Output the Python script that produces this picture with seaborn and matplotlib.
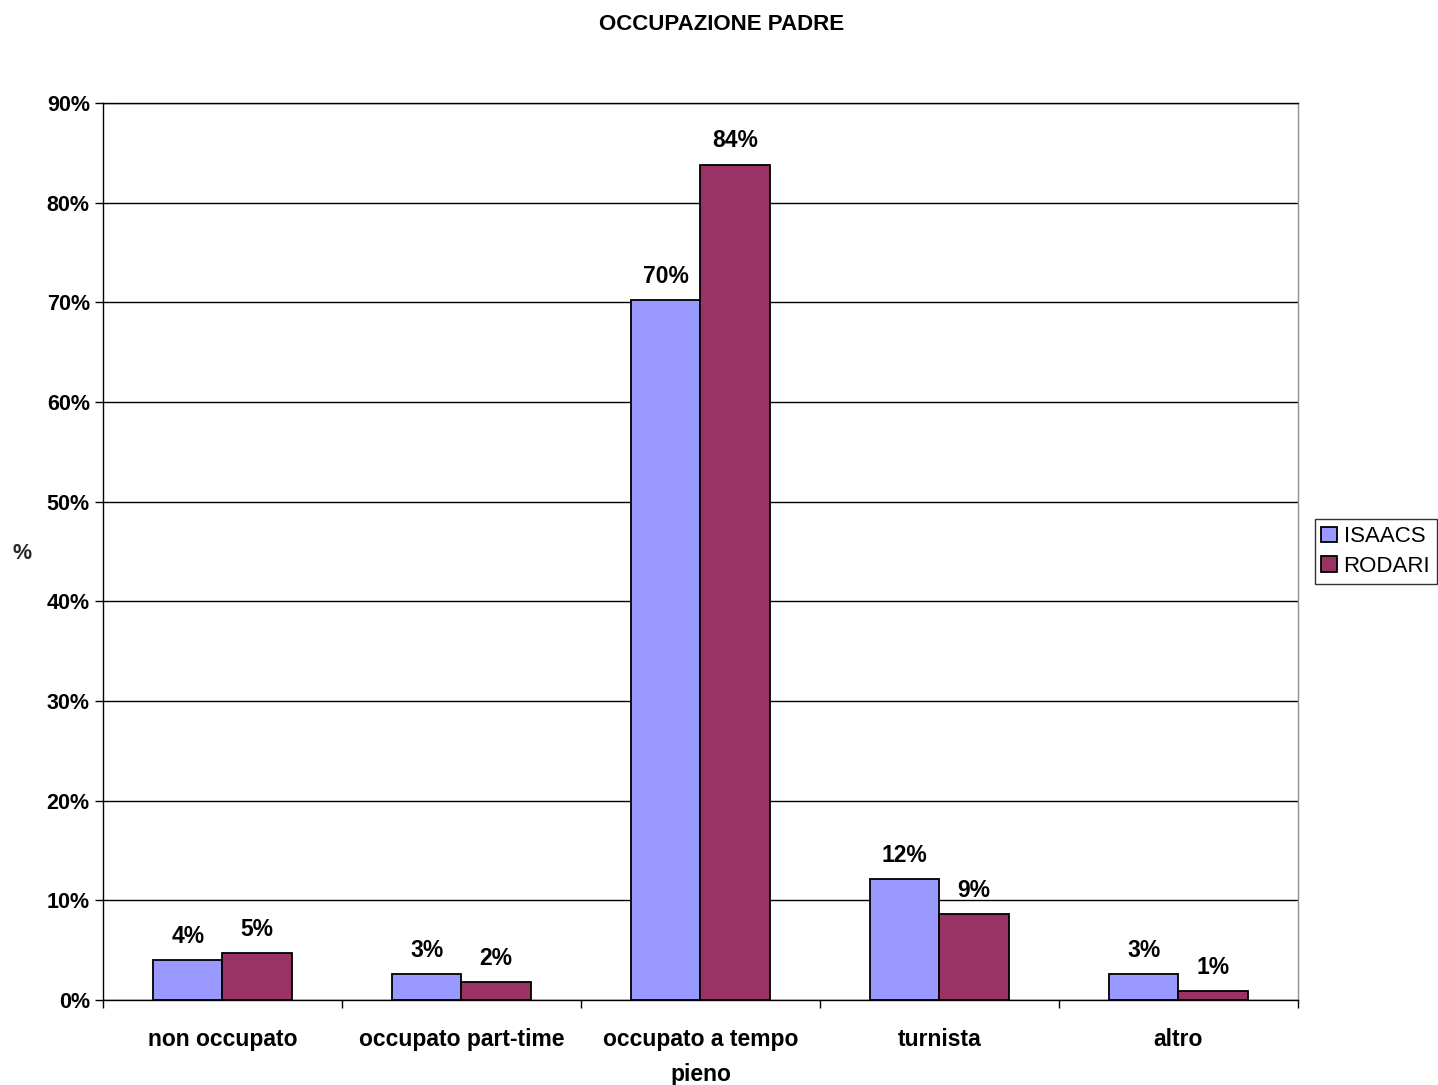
import matplotlib
matplotlib.use("Agg")
import matplotlib.pyplot as plt
import pandas as pd
import seaborn as sns
from matplotlib.ticker import FixedLocator, FuncFormatter

sns.set_style("white")
plt.rcParams["font.family"] = ["Liberation Sans", "DejaVu Sans"]
plt.rcParams["text.color"] = "black"
plt.rcParams["xtick.color"] = "black"
plt.rcParams["ytick.color"] = "black"

# Data
categories = ["non occupato", "occupato part-time", "occupato a tempo\npieno", "turnista", "altro"]
isaacs = [4.0, 2.6, 70.2, 12.1, 2.6]
rodari = [4.7, 1.8, 83.8, 8.6, 0.9]
series = ["ISAACS", "RODARI"]
colors = ["#9999FF", "#993366"]

df = pd.DataFrame({
    "categoria": categories * 2,
    "serie": [series[0]] * len(categories) + [series[1]] * len(categories),
    "valore": isaacs + rodari,
})

fig = plt.figure(figsize=(14.38, 10.85), dpi=100)
ax = fig.add_axes([0.0716, 0.0783, 0.831, 0.8268])

sns.barplot(data=df, x="categoria", y="valore", hue="serie", palette=colors,
            width=0.58, edgecolor="black", linewidth=1.3, ax=ax, saturation=1)

# value labels
for cont in ax.containers:
    for bar in cont:
        h = bar.get_height()
        ax.annotate(f"{h:.0f}%", (bar.get_x() + bar.get_width() / 2, h),
                    xytext=(0, 9), textcoords="offset points",
                    ha="center", va="bottom", fontsize=16.5, fontweight="bold")

ax.set_ylim(0, 90)
ax.set_xlim(-0.5, len(categories) - 0.5)
ax.set_yticks(range(0, 91, 10))
ax.yaxis.set_major_formatter(FuncFormatter(lambda v, p: f"{v:.0f}%"))
ax.yaxis.grid(True, color="black", linewidth=1)
ax.set_axisbelow(True)

# x ticks at category boundaries, labels at centres
ax.xaxis.set_major_locator(FixedLocator([i - 0.5 for i in range(len(categories) + 1)]))
ax.xaxis.set_minor_locator(FixedLocator(range(len(categories))))
ax.set_xticklabels([], minor=False)
ax.set_xticklabels(categories, minor=True, linespacing=1.7)
ax.tick_params(axis="x", which="major", length=6, width=1, direction="out", bottom=True)
ax.tick_params(axis="x", which="minor", length=0, pad=20, labelsize=16.5)
ax.tick_params(axis="y", length=6, width=1, direction="out", left=True, labelsize=15.5)
for lbl in ax.get_xticklabels(minor=True) + ax.get_yticklabels():
    lbl.set_fontweight("bold")

for s in ["left", "bottom", "top"]:
    ax.spines[s].set_color("black")
    ax.spines[s].set_linewidth(1)
ax.spines["right"].set_color("#909090")
ax.spines["right"].set_linewidth(1)

ax.set_xlabel("")
ax.set_ylabel("%", rotation=0, fontsize=15.5, fontweight="bold")
ax.yaxis.set_label_coords(-0.068, 0.486)

fig.suptitle("OCCUPAZIONE PADRE", fontsize=16, fontweight="bold", x=0.502, y=0.987)

leg = ax.legend(loc="center left", bbox_to_anchor=(1.014, 0.5), frameon=True,
                fancybox=False, edgecolor="black", fontsize=16, handlelength=0.7,
                handleheight=0.7, handletextpad=0.3, borderpad=0.3, labelspacing=0.4,
                borderaxespad=0)
leg.get_frame().set_linewidth(1)

fig.savefig("out.png", dpi=100, facecolor="white")
